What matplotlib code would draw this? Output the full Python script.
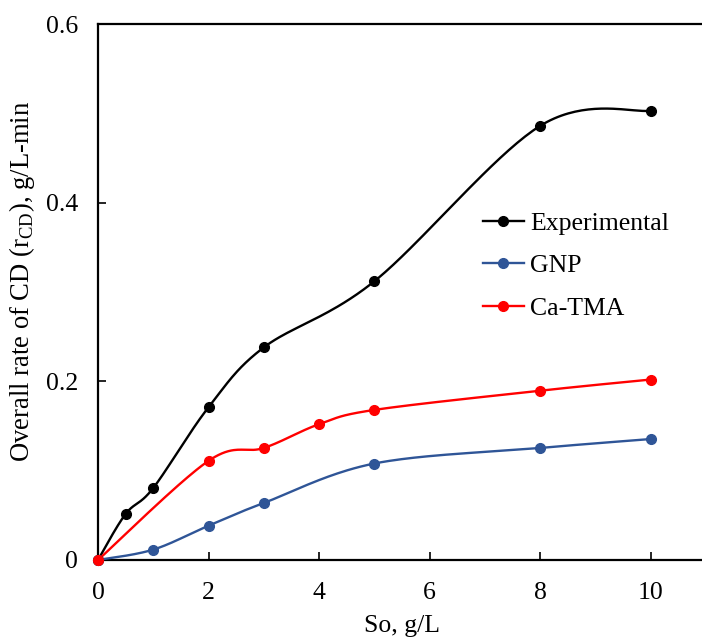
import numpy as np
import matplotlib
matplotlib.use("Agg")
import matplotlib.pyplot as plt

plt.rcParams['font.family'] = ['Liberation Serif', 'DejaVu Serif']
plt.rcParams['mathtext.fontset'] = 'custom'
plt.rcParams['mathtext.rm'] = 'Liberation Serif'

exp_x = [0, 0.5, 1, 2, 3, 5, 8, 10]
exp_y = [0, 0.0515, 0.0806, 0.171, 0.238, 0.312, 0.486, 0.503]
gnp_x = [0, 1, 2, 3, 5, 8, 10]
gnp_y = [0, 0.0116, 0.0384, 0.0638, 0.108, 0.1254, 0.1354]
ca_x = [0, 2, 3, 4, 5, 8, 10]
ca_y = [0, 0.111, 0.1254, 0.152, 0.168, 0.1895, 0.202]

x_ticks = [0, 2, 4, 6, 8, 10]
y_ticks = [0, 0.2, 0.4, 0.6]
y_ticklabels = ['0', '0.2', '0.4', '0.6']


def smooth(xs, ys, n=40):
    # Excel-like smoothed line: cubic Bezier through points (Catmull-Rom style)
    P = np.column_stack([xs, ys]).astype(float)
    m = len(P)
    out = []
    for i in range(m - 1):
        p0 = P[i - 1] if i > 0 else P[i]
        p1 = P[i]
        p2 = P[i + 1]
        p3 = P[i + 2] if i + 2 < m else P[i + 1]
        c1 = p1 + (p2 - p0) / 6.0
        c2 = p2 - (p3 - p1) / 6.0
        t = np.linspace(0, 1, n)[:, None]
        seg = ((1 - t) ** 3) * p1 + 3 * ((1 - t) ** 2) * t * c1 + 3 * (1 - t) * t ** 2 * c2 + t ** 3 * p2
        out.append(seg if i == 0 else seg[1:])
    s = np.vstack(out)
    return s[:, 0], s[:, 1]


FS = 18.5
fig = plt.figure(figsize=(7.02, 6.38), dpi=100)
ax = fig.add_axes([0.1396, 0.1223, 0.866, 0.840])

series = [
    (exp_x, exp_y, '#000000', 'Experimental'),
    (gnp_x, gnp_y, '#2F5597', 'GNP'),
    (ca_x, ca_y, '#FF0000', 'Ca-TMA'),
]
for xs, ys, c, lab in series:
    sx, sy = smooth(xs, ys)
    ax.plot(sx, sy, color=c, lw=1.7, zorder=3, clip_on=False)
    ax.plot(xs, ys, 'o', color=c, ms=7, zorder=4, clip_on=False)
    ax.plot([], [], '-o', color=c, lw=1.7, ms=7, label=lab)

ax.set_xlim(0, 11)
ax.set_ylim(0, 0.6)
ax.set_xticks(x_ticks)
ax.set_yticks(y_ticks)
ax.set_yticklabels(y_ticklabels)
ax.tick_params(direction='in', length=6, width=1.2, labelsize=FS)
ax.tick_params(axis='x', pad=16)
ax.tick_params(axis='y', pad=14.5)
for sp in ax.spines.values():
    sp.set_linewidth(1.6)

ax.set_xlabel('So, g/L', fontsize=FS, labelpad=7.5)
ax.set_ylabel(r'Overall rate of CD (r$_{\mathrm{CD}}$), g/L-min', fontsize=19.2, labelpad=6)
ax.yaxis.label.set_y(0.52)

leg = ax.legend(loc='upper left', bbox_to_anchor=(0.633, 0.649), frameon=False, fontsize=FS,
                handlelength=1.6, handletextpad=0.25, labelspacing=0.75,
                borderpad=0, borderaxespad=0)

fig.savefig('out.png', dpi=100)
